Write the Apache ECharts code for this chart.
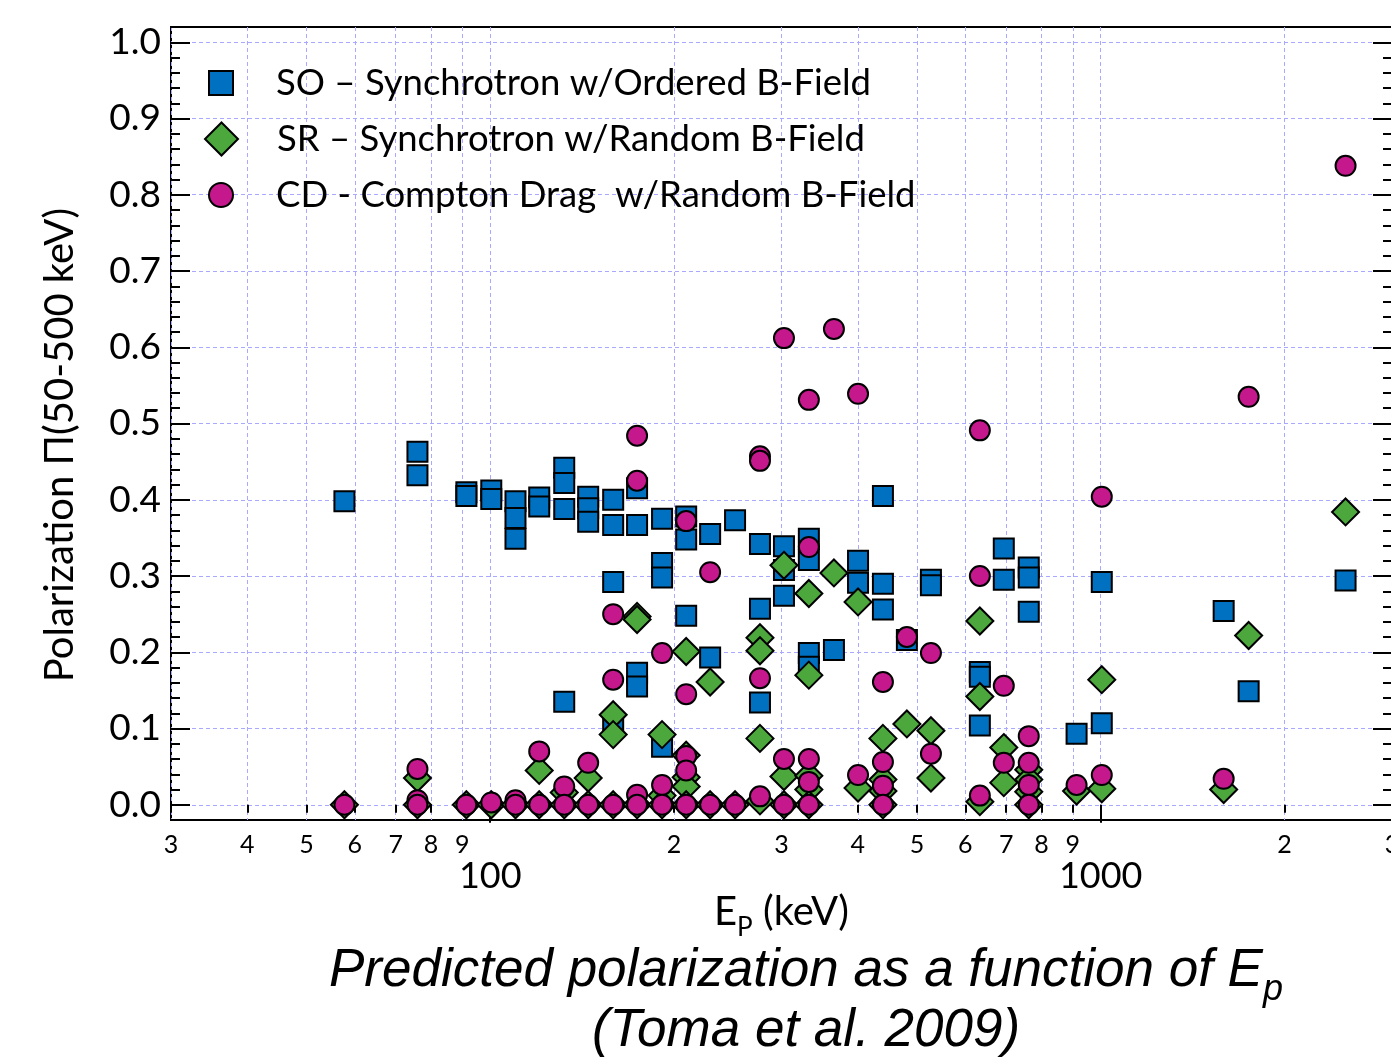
<!DOCTYPE html>
<html><head><meta charset="utf-8">
<script src="https://cdn.jsdelivr.net/npm/echarts@6/dist/echarts.min.js"></script>
<style>html,body{margin:0;padding:0;background:#fff}#c{width:1391px;height:1064px}</style>
</head><body><div id="c"></div>
<script>
// ---- data (Ep in keV, polarization) ----
const soEp  = [57.7, 76,76, 91.4,91.4, 100.4,100.4, 110,110,110, 120.3,120.3, 132.2,132.2,132.2,132.2, 144.7,144.7,144.7, 159,159,159,159, 174,174,174,174, 191.2,191.2,191.2,191.2, 209.4,209.4,209.4, 229.2,229.2, 251.8, 276.6,276.6,276.6, 302.8,302.8,302.8, 332.6,332.6,332.6,332.6, 365.6, 400.4,400.4, 439.8,439.8,439.8, 481.4, 527.1,527.1, 633.9,633.9,633.9, 693.8,693.8, 762.3,762.3,762.3, 913, 1004,1004, 1590, 1747, 2518];
const soPol = [0.398, 0.463,0.432, 0.410,0.405, 0.412,0.401, 0.398,0.376,0.349, 0.403,0.391, 0.442,0.422,0.388,0.135, 0.404,0.389,0.371, 0.400,0.367,0.292,0.105, 0.415,0.367,0.173,0.155, 0.375,0.317,0.298,0.076, 0.378,0.348,0.248, 0.355,0.193, 0.373, 0.342,0.257,0.134, 0.339,0.308,0.274, 0.349,0.321,0.199,0.181, 0.203, 0.320,0.291, 0.405,0.290,0.256, 0.216, 0.295,0.288, 0.174,0.168,0.104, 0.336,0.295, 0.311,0.298,0.253, 0.093, 0.292,0.107, 0.254, 0.149, 0.294];

const srEp  = [57.7, 76,76, 91.4, 100.4, 110, 120.3,120.3, 132.2,132.2, 144.7,144.7, 159,159,159, 174,174,174, 191.2,191.2,191.2, 209.4,209.4,209.4,209.4,209.4, 229.2,229.2, 251.8, 276.6,276.6,276.6,276.6, 302.8,302.8,302.8, 332.6,332.6,332.6,332.6,332.6, 365.6, 400.4,400.4, 439.8,439.8,439.8,439.8, 481.4, 527.1,527.1, 633.9,633.9,633.9, 693.8,693.8, 762.3,762.3,762.3,762.3, 913, 1004,1004, 1590, 1747, 2518];
const srPol = [0, 0.035,0, 0, 0, 0, 0.045,0, 0.016,0, 0.035,0, 0.118,0.092,0, 0.247,0.243,0, 0.092,0.012,0, 0.201,0.065,0.036,0.024,0, 0.161,0, 0, 0.219,0.202,0.087,0.005, 0.314,0.037,0, 0.277,0.170,0.038,0.020,0, 0.304, 0.266,0.022, 0.087,0.033,0.018,0, 0.106, 0.097,0.035, 0.241,0.142,0.004, 0.075,0.029, 0.046,0.033,0.017,0, 0.018, 0.164,0.021, 0.020, 0.222, 0.384];

const cdEp  = [57.7, 76,76,76, 91.4, 100.4, 110,110, 120.3,120.3, 132.2,132.2, 144.7,144.7, 159,159,159, 174,174,174,174, 191.2,191.2,191.2, 209.4,209.4,209.4,209.4,209.4, 229.2,229.2, 251.8, 276.6,276.6,276.6,276.6, 302.8,302.8,302.8, 332.6,332.6,332.6,332.6,332.6, 365.6, 400.4,400.4, 439.8,439.8,439.8,439.8, 481.4, 527.1,527.1, 633.9,633.9,633.9, 693.8,693.8, 762.3,762.3,762.3,762.3, 913, 1004,1004, 1590, 1747, 2518];
const cdPol = [0, 0.047,0.006,0, 0, 0.003, 0.006,0, 0.070,0, 0.024,0, 0.055,0, 0.250,0.164,0, 0.484,0.425,0.013,0, 0.199,0.026,0, 0.372,0.145,0.064,0.045,0, 0.305,0, 0, 0.457,0.451,0.166,0.011, 0.612,0.060,0, 0.531,0.338,0.060,0.030,0, 0.624, 0.539,0.039, 0.161,0.056,0.025,0, 0.220, 0.199,0.067, 0.491,0.300,0.012, 0.156,0.055, 0.090,0.055,0.026,0, 0.026, 0.404,0.039, 0.034, 0.535, 0.838];

const seriesNames = ['SO \u2013 Synchrotron w/Ordered B-Field', 'SR \u2013 Synchrotron w/Random B-Field', 'CD - Compton Drag  w/Random B-Field'];

// ---- axis ticks ----
const yMajorTicks = [0, 0.1, 0.2, 0.3, 0.4, 0.5, 0.6, 0.7, 0.8, 0.9, 1.0];
const xMinorTicks = [30, 40, 50, 60, 70, 80, 90, 200, 300, 400, 500, 600, 700, 800, 900, 2000, 3000];
const xMinorTickLabels = ['3', '4', '5', '6', '7', '8', '9', '2', '3', '4', '5', '6', '7', '8', '9', '2', '3'];
const xMajorTicks = [100, 1000];
const xMajorTickLabels = ['100', '1000'];

const FONT = 'Lato';
const zip = (xs, ys) => xs.map((x, i) => [x, ys[i]]);
const gridLine = { show: true, lineStyle: { color: '#a9a9ff', width: 1, type: [4, 3] } };
const BLACK = '#000';

const yBase = { type: 'value', min: -0.02, max: 1.02, interval: 0.02, gridIndex: 0, axisLine: { show: false } };
const legendText = { fontSize: 36.5, fontFamily: FONT, color: BLACK, lineHeight: 40 };

const option = {
  animation: false,
  backgroundColor: '#fff',
  grid: { left: 171, top: 27, width: 1221, height: 793, show: true, borderColor: BLACK, borderWidth: 2, backgroundColor: 'transparent', containLabel: false, outerBoundsMode: 'none' },
  xAxis: [
    { type: 'log', logBase: 10, min: 30, max: 3000, position: 'bottom',
      axisLine: { show: false },
      axisTick: { show: true, inside: false, length: 8, customValues: xMinorTicks, lineStyle: { color: BLACK, width: 2 } },
      axisLabel: { show: true, customValues: xMinorTicks, margin: 12, fontSize: 25, fontFamily: FONT, color: BLACK,
        formatter: v => { const i = xMinorTicks.findIndex(t => Math.abs(t - v) / t < 1e-6); return i >= 0 ? xMinorTickLabels[i] : ''; } },
      splitLine: gridLine },
    { type: 'log', logBase: 10, min: 30, max: 3000, position: 'bottom',
      axisLine: { show: false },
      axisTick: { show: true, inside: false, length: 18, customValues: xMajorTicks, lineStyle: { color: BLACK, width: 2 } },
      axisLabel: { show: true, customValues: xMajorTicks, margin: 38, fontSize: 36, fontFamily: FONT, color: BLACK,
        formatter: v => { const i = xMajorTicks.findIndex(t => Math.abs(t - v) / t < 1e-6); return i >= 0 ? xMajorTickLabels[i] : ''; } },
      splitLine: gridLine,
      name: '{e|E}{s|P}{e| (keV)}', nameLocation: 'middle', nameGap: 66, nameMoveOverlap: false,
      nameTextStyle: { color: BLACK, fontFamily: FONT, rich: {
        e: { fontSize: 40, fontFamily: FONT, color: BLACK, lineHeight: 46, verticalAlign: 'bottom' },
        s: { fontSize: 26, fontFamily: FONT, color: BLACK, lineHeight: 46, verticalAlign: 'bottom', padding: [0, 0, -9, 0] } } } }
  ],
  yAxis: [
    Object.assign({}, yBase, { position: 'left',
      axisTick: { show: true, inside: true, length: 19, customValues: yMajorTicks, lineStyle: { color: BLACK, width: 2 } },
      axisLabel: { show: true, customValues: yMajorTicks, margin: 10, fontSize: 37, fontFamily: FONT, color: BLACK, formatter: v => v.toFixed(1) },
      splitLine: gridLine }),
    Object.assign({}, yBase, { position: 'left',
      axisTick: { show: true, inside: true, length: 9, lineStyle: { color: BLACK, width: 2 } },
      axisLabel: { show: false }, splitLine: { show: false } }),
    Object.assign({}, yBase, { position: 'right',
      axisTick: { show: true, inside: true, length: 19, customValues: yMajorTicks, lineStyle: { color: BLACK, width: 2 } },
      axisLabel: { show: false }, splitLine: { show: false } }),
    Object.assign({}, yBase, { position: 'right',
      axisTick: { show: true, inside: true, length: 9, lineStyle: { color: BLACK, width: 2 } },
      axisLabel: { show: false }, splitLine: { show: false } })
  ],
  legend: [
    { data: [seriesNames[0]], left: 203, top: 58, itemWidth: 24, itemHeight: 24, orient: 'vertical',
      textStyle: Object.assign({ padding: [0, 0, 0, 38] }, legendText) },
    { data: [seriesNames[1]], left: 199, top: 114, itemWidth: 33, itemHeight: 33, orient: 'vertical',
      textStyle: Object.assign({ padding: [0, 0, 0, 34] }, legendText) },
    { data: [seriesNames[2]], left: 203, top: 170, itemWidth: 24, itemHeight: 24, orient: 'vertical',
      textStyle: Object.assign({ padding: [0, 0, 0, 38] }, legendText) }
  ],
  series: [
    { name: seriesNames[0], type: 'scatter', xAxisIndex: 0, yAxisIndex: 0, symbol: 'rect', symbolSize: 20,
      itemStyle: { color: '#0070C0', borderColor: BLACK, borderWidth: 2, opacity: 1 }, data: zip(soEp, soPol) },
    { name: seriesNames[1], type: 'scatter', xAxisIndex: 0, yAxisIndex: 0, symbol: 'diamond', symbolSize: 27,
      itemStyle: { color: '#4CA83C', borderColor: BLACK, borderWidth: 2, opacity: 1 }, data: zip(srEp, srPol) },
    { name: seriesNames[2], type: 'scatter', xAxisIndex: 0, yAxisIndex: 0, symbol: 'circle', symbolSize: 20,
      itemStyle: { color: '#C6188D', borderColor: BLACK, borderWidth: 2, opacity: 1 }, data: zip(cdEp, cdPol) }
  ],
  graphic: [
    { type: 'text', x: 60, y: 445, rotation: Math.PI / 2, style: { text: 'Polarization \u03a0(50-500 keV)', align: 'center', verticalAlign: 'middle',
      font: '40px Lato', fill: BLACK } },
    { type: 'text', x: 806, y: 967, style: { text: '{m|Predicted polarization as a function of E}{s|p}', align: 'center', verticalAlign: 'middle',
      rich: { m: { font: 'italic 53px "Liberation Sans"', fill: BLACK, lineHeight: 62, verticalAlign: 'bottom' },
              s: { font: 'italic 36px "Liberation Sans"', fill: BLACK, lineHeight: 62, verticalAlign: 'bottom', padding: [0, 0, -10, 0] } } } },
    { type: 'text', x: 806, y: 1031, style: { text: '(Toma et al. 2009)', align: 'center', verticalAlign: 'middle', font: 'italic 53px "Liberation Sans"', fill: BLACK } }
  ]
};
const chart = echarts.init(document.getElementById('c'), null, { renderer: 'canvas' });
chart.setOption(option);
</script></body></html>
